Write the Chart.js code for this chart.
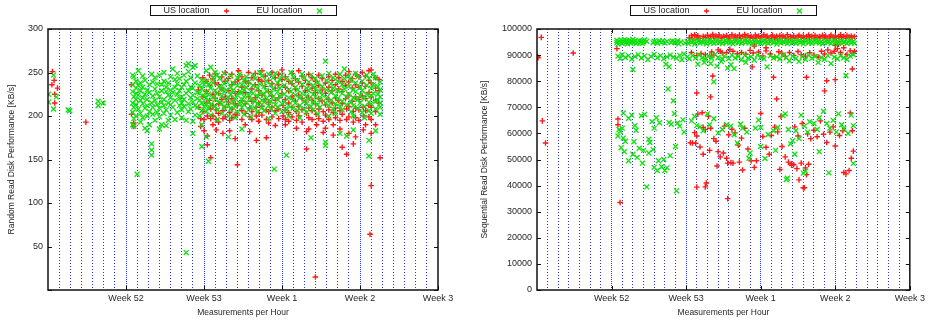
<!DOCTYPE html>
<html>
<head>
<meta charset="utf-8">
<script src="https://cdn.jsdelivr.net/npm/chart.js@4.4.1/dist/chart.umd.min.js"></script>
<style>
  html, body { margin: 0; padding: 0; background: #fff; }
  #wrap { display: flex; width: 928px; height: 322px; }
  canvas { display: block; }
</style>
</head>
<body>
<div id="wrap">
  <canvas id="randomChart" width="464" height="322"></canvas>
  <canvas id="seqChart" width="464" height="322"></canvas>
</div>
<script>
// x = days since start of plot (week 51), tick labels at week boundaries
const weekTicks = [7, 14, 21, 28, 35];
const weekNames = ['Week 52', 'Week 53', 'Week 1', 'Week 2', 'Week 3'];
const seriesNames = ['US location', 'EU location'];

// random read, US location [day, KB/s]
const randomUS = [
  [0.4,251],[0.55,241],[0.35,236],[0.6,225],[0.6,215],[0.85,232],[3.4,193],
  [7.5,236],[7.5,202],[7.7,192],[7.7,188],
  [13.5,230],[13.5,210],[13.7,197],[13.7,188],[13.9,244],[13.9,222],[13.9,205],[14.0,196],[14.0,183],
  [14.2,240],[14.2,228],[14.2,215],[14.3,200],[14.3,177],[14.3,167],[14.5,247],[14.5,235],[14.5,218],
  [14.6,208],[14.6,197],[14.6,152],[14.8,243],[14.8,225],[14.8,212],[14.8,200],[14.8,190],
  [15.0,249],[15.0,238],[15.0,220],[15.1,207],[15.1,196],[15.1,184],[15.3,236],[15.3,226],[15.3,214],[15.3,203],[15.3,193],
  [15.6,245],[15.6,231],[15.6,219],[15.7,206],[15.7,197],[15.7,180],[15.9,250],[15.9,240],[15.9,222],[15.9,210],[15.9,199],
  [16.2,243],[16.2,229],[16.2,216],[16.3,204],[16.3,195],[16.3,183],[16.5,248],[16.5,236],[16.5,220],[16.5,208],[16.5,198],
  [16.8,239],[16.8,226],[16.8,214],[16.8,202],[16.8,174],[17.1,252],[17.1,242],[17.1,228],[17.0,212],[17.0,201],[17.0,144],
  [17.4,245],[17.4,233],[17.4,218],[17.4,206],[17.4,196],[17.7,240],[17.7,227],[17.7,214],[17.7,203],[17.7,190],
  [18.0,250],[18.0,238],[18.0,222],[18.1,209],[18.1,199],[18.1,182],[18.3,244],[18.3,231],[18.3,217],[18.3,205],[18.3,196],
  [18.6,249],[18.6,236],[18.6,221],[18.7,210],[18.7,200],[18.7,172],[18.9,242],[18.9,229],[18.9,215],[18.9,204],[18.9,194],
  [19.2,252],[19.2,240],[19.2,224],[19.2,211],[19.2,201],[19.5,246],[19.5,234],[19.5,219],[19.6,207],[19.6,196],[19.6,175],
  [19.8,241],[19.8,228],[19.8,216],[19.8,205],[19.8,192],[20.1,250],[20.1,237],[20.1,223],[20.1,210],[20.1,199],
  [20.4,244],[20.4,232],[20.4,218],[20.4,206],[20.4,189],[20.7,248],[20.7,236],[20.7,221],[20.7,208],[20.7,197],
  [21.0,253],[21.0,242],[21.0,226],[21.1,212],[21.1,200],[21.3,245],[21.3,233],[21.3,219],[21.3,207],[21.3,196],[21.3,190],
  [21.6,240],[21.6,229],[21.6,215],[21.6,204],[21.6,194],[21.9,249],[21.9,237],[21.9,222],[21.9,210],[21.9,199],
  [22.2,243],[22.2,231],[22.2,217],[22.3,205],[22.3,195],[22.3,186],[22.5,252],[22.5,239],[22.5,224],[22.5,211],[22.5,200],
  [22.8,246],[22.8,234],[22.8,220],[22.8,207],[22.8,193],[23.1,241],[23.1,229],[23.1,216],[23.2,203],[23.2,182],[23.2,162],
  [23.4,248],[23.4,236],[23.4,221],[23.4,209],[23.4,198],[23.4,185],[23.7,244],[23.7,232],[23.7,218],[23.7,206],[23.7,196],
  [24.0,15],[24.0,240],[24.0,227],[24.0,214],[24.1,202],[24.1,190],[24.3,247],[24.3,235],[24.3,220],[24.3,208],[24.3,197],
  [24.6,243],[24.6,230],[24.6,217],[24.7,205],[24.7,194],[24.7,181],[24.9,238],[24.9,226],[24.9,213],[24.9,201],[24.9,186],
  [25.2,245],[25.2,233],[25.2,219],[25.2,207],[25.2,196],[25.5,241],[25.5,229],[25.5,215],[25.6,204],[25.6,190],[25.6,178],
  [25.8,248],[25.8,236],[25.8,221],[25.8,209],[25.8,198],[26.1,244],[26.1,231],[26.1,218],[26.2,206],[26.2,195],[26.2,185],
  [26.4,240],[26.4,228],[26.4,214],[26.4,202],[26.4,164],[26.7,247],[26.7,235],[26.7,220],[26.8,208],[26.8,196],[26.8,156],
  [27.0,251],[27.0,239],[27.0,224],[27.0,211],[27.0,199],[27.0,180],[27.3,243],[27.3,232],[27.3,217],[27.4,205],[27.4,193],[27.4,168],
  [27.6,248],[27.6,236],[27.6,222],[27.6,209],[27.6,198],[27.6,176],[27.9,245],[27.9,233],[27.9,219],[27.9,207],[27.9,195],
  [28.2,250],[28.2,238],[28.2,223],[28.3,210],[28.3,200],[28.3,184],[28.5,246],[28.5,234],[28.5,220],[28.5,206],[28.5,190],
  [28.8,252],[28.8,241],[28.8,227],[28.8,212],[28.8,199],[28.9,64],[29.0,120],[29.0,253],[29.0,238],[29.0,222],[29.0,210],[29.0,196],[29.0,180],
  [29.4,244],[29.4,232],[29.4,218],[29.4,205],[29.4,190],[29.7,242],[29.7,229],[29.7,215],[29.8,152]
];

// random read, EU location [day, KB/s]
const randomEU = [
  [0.05,225],[0.05,216],[0.5,247],[0.5,208],[0.75,222],[1.8,207],[1.95,206],[4.5,217],[4.5,212],[4.95,215],
  [7.6,247],[7.6,236],[7.6,228],[7.6,215],[7.6,204],[7.6,190],[7.7,245],[7.7,222],[7.7,210],[7.7,197],[7.7,188],
  [7.9,240],[7.9,232],[7.9,226],[7.9,219],[7.9,213],[7.9,200],[8.0,133],[8.1,252],[8.1,235],[8.1,224],[8.1,208],
  [8.3,238],[8.3,229],[8.3,218],[8.3,203],[8.3,193],[8.5,246],[8.5,233],[8.5,221],[8.5,214],[8.5,198],
  [8.7,225],[8.7,209],[8.7,186],[8.7,241],[8.9,230],[8.9,219],[8.9,212],[8.9,200],[8.9,183],
  [9.1,236],[9.1,227],[9.1,205],[9.1,190],[9.3,168],[9.3,161],[9.3,155],[9.3,248],[9.3,215],
  [9.4,239],[9.4,223],[9.4,210],[9.4,202],[9.6,244],[9.6,231],[9.6,218],[9.6,195],[9.8,226],[9.8,213],[9.8,204],[9.8,237],
  [10.0,247],[10.0,222],[10.0,209],[10.0,199],[10.0,185],[10.2,236],[10.2,216],[10.2,229],[10.2,190],
  [10.4,250],[10.4,240],[10.4,219],[10.4,212],[10.4,203],[10.6,228],[10.6,233],[10.6,207],[10.6,189],
  [10.8,238],[10.8,224],[10.8,215],[10.8,195],[11.0,245],[11.0,230],[11.0,221],[11.0,213],[11.0,201],
  [11.2,254],[11.2,227],[11.2,210],[11.4,242],[11.4,218],[11.4,196],[11.4,233],[11.6,249],[11.6,237],[11.6,225],[11.6,204],
  [11.8,220],[11.8,212],[11.8,243],[11.8,229],[12.0,233],[12.0,222],[12.0,215],[12.0,207],[12.0,198],
  [12.2,247],[12.2,236],[12.2,219],[12.2,211],[12.4,43],[12.4,258],[12.4,226],[12.4,195],[12.4,240],
  [12.6,260],[12.6,251],[12.6,229],[12.6,214],[12.6,205],[12.8,221],[12.8,233],[12.8,244],[12.8,208],
  [13.0,256],[13.0,232],[13.0,224],[13.0,216],[13.0,194],[13.0,180],[13.2,258],[13.2,238],[13.2,212],[13.2,201],
  [13.4,246],[13.4,227],[13.4,220],[13.4,210],[13.6,235],[13.6,226],[13.6,218],[13.6,200],
  [13.8,165],[13.8,241],[13.8,231],[13.8,215],[13.8,206],[13.8,190],[14.0,223],[14.0,236],[14.0,211],
  [14.2,252],[14.2,240],[14.2,228],[14.2,221],[14.2,214],[14.2,205],[14.2,176],[14.4,148],[14.4,236],[14.4,225],[14.4,217],[14.4,209],
  [14.6,256],[14.6,232],[14.6,213],[14.6,201],[14.8,244],[14.8,222],[14.8,238],[15.0,250],[15.0,229],[15.0,219],[15.0,211],
  [15.2,247],[15.2,226],[15.2,207],[15.2,196],[15.4,234],[15.4,216],[15.4,243],[15.6,231],[15.6,223],[15.6,214],[15.6,203],
  [15.8,249],[15.8,237],[15.8,228],[15.8,210],[16.0,218],[16.0,230],[16.0,240],[16.2,221],[16.2,212],[16.2,200],[16.2,176],
  [16.4,246],[16.4,233],[16.4,225],[16.4,208],[16.6,238],[16.6,216],[16.6,229],[16.8,220],[16.8,211],[16.8,198],
  [17.0,244],[17.0,235],[17.0,224],[17.0,205],[17.2,215],[17.2,228],[17.2,248],[17.4,236],[17.4,227],[17.4,219],[17.4,210],[17.4,185],
  [17.6,241],[17.6,230],[17.6,222],[17.6,213],[17.6,202],[17.8,245],[17.8,233],[17.8,216],[18.0,224],[18.0,207],[18.0,239],
  [18.2,228],[18.2,219],[18.2,211],[18.2,199],[18.4,247],[18.4,235],[18.4,226],[18.6,217],[18.6,209],[18.6,243],
  [18.8,232],[18.8,223],[18.8,214],[18.8,204],[19.0,250],[19.0,237],[19.0,227],[19.2,218],[19.2,210],[19.2,246],
  [19.4,234],[19.4,225],[19.4,216],[19.4,206],[19.6,240],[19.6,229],[19.6,220],[19.8,212],[19.8,197],[19.8,248],
  [20.0,236],[20.0,226],[20.0,217],[20.0,208],[20.2,244],[20.2,231],[20.2,222],[20.3,139],[20.4,213],[20.4,203],[20.4,249],
  [20.6,238],[20.6,228],[20.6,219],[20.6,210],[20.8,242],[20.8,232],[20.8,223],[21.0,214],[21.0,205],[21.0,247],
  [21.2,235],[21.2,225],[21.2,216],[21.4,155],[21.4,207],[21.4,243],[21.6,230],[21.6,221],[21.6,212],[21.6,200],
  [21.8,250],[21.8,239],[21.8,228],[22.0,218],[22.0,209],[22.0,245],[22.2,233],[22.2,224],[22.2,215],
  [22.4,206],[22.4,241],[22.4,230],[22.6,221],[22.6,212],[22.6,198],[22.8,248],[22.8,236],[22.8,226],
  [23.0,217],[23.0,208],[23.0,244],[23.2,232],[23.2,223],[23.2,214],[23.2,204],[23.4,239],[23.4,229],[23.4,220],
  [23.6,211],[23.6,175],[23.6,247],[23.8,235],[23.8,225],[23.8,216],[23.8,207],[24.0,243],[24.0,231],[24.0,222],
  [24.2,213],[24.2,202],[24.2,238],[24.4,228],[24.4,219],[24.4,210],[24.6,246],[24.6,234],[24.6,224],
  [24.9,263],[24.9,215],[24.9,170],[24.9,166],[25.0,241],[25.0,230],[25.0,221],[25.2,212],[25.2,200],[25.2,249],
  [25.4,237],[25.4,227],[25.4,218],[25.6,208],[25.6,244],[25.6,232],[25.8,223],[25.8,214],[25.8,203],
  [26.0,240],[26.0,229],[26.0,220],[26.2,211],[26.2,180],[26.2,248],[26.4,236],[26.4,226],[26.4,217],[26.4,207],
  [26.6,254],[26.6,243],[26.6,231],[26.8,222],[26.8,213],[26.8,177],[27.0,246],[27.0,234],[27.0,225],
  [27.2,216],[27.2,205],[27.2,241],[27.4,230],[27.4,221],[27.4,212],[27.4,200],[27.4,184],[27.6,249],[27.6,238],[27.6,228],
  [27.8,219],[27.8,209],[27.8,245],[28.0,233],[28.0,224],[28.0,215],[28.2,204],[28.2,240],[28.2,229],
  [28.4,220],[28.4,211],[28.4,198],[28.6,247],[28.6,235],[28.6,225],[28.8,216],[28.8,206],[28.8,243],[28.8,172],[28.8,154],
  [29.0,232],[29.0,223],[29.0,214],[29.0,203],[29.2,248],[29.2,236],[29.2,226],[29.4,217],[29.4,208],[29.4,244],[29.4,183],
  [29.6,234],[29.6,225],[29.6,218],[29.8,210],[29.8,239],[29.8,230],[29.8,222],[29.8,215],[29.8,202]
];

// sequential read, US location [day, KB/s]
const seqUS = [
  [0.05,89500],[0.1,89000],[0.4,96800],[0.5,64800],[0.8,56300],[3.4,90800],
  [7.5,92500],[7.6,65500],[7.6,63300],[7.8,33500],
  [14.3,96600],[14.5,97500],[14.6,96200],[14.8,97800],[15.0,96900],[15.1,97400],[15.3,96400],[15.6,97200],[15.8,96800],
  [16.0,97600],[16.1,96300],[16.3,97100],[16.5,97900],[16.6,96600],[16.8,97300],[17.0,96900],[17.1,97700],[17.3,96400],
  [17.5,97200],[17.6,96800],[17.8,97500],[18.0,96200],[18.1,97000],[18.3,97800],[18.5,96500],[18.6,97300],[18.8,96900],
  [19.0,97600],[19.1,96300],[19.3,97100],[19.5,97900],[19.6,96600],[19.8,97400],[20.0,96800],[20.1,97200],[20.3,96400],
  [20.5,97700],[20.6,96900],[20.8,97300],[21.0,96500],[21.1,97100],[21.3,97800],[21.5,96700],[21.6,97300],[21.8,96300],
  [22.0,97000],[22.1,97600],[22.3,96800],[22.5,97200],[22.6,96400],[22.8,97500],[23.0,96900],[23.1,97300],[23.3,96600],
  [23.5,97800],[23.6,96200],[23.8,97100],[24.0,96700],[24.1,97400],[24.3,96500],[24.5,97000],[24.6,97600],[24.8,96800],
  [25.0,97300],[25.1,96400],[25.3,97100],[25.5,97700],[25.6,96900],[25.8,97200],[26.0,96300],[26.1,97500],[26.3,96800],
  [26.5,97100],[26.6,96500],[26.8,97600],[27.0,96900],[27.1,97300],[27.3,96400],[27.5,97000],[27.6,97700],[27.8,96700],
  [28.0,97300],[28.1,96500],[28.3,97100],[28.5,97800],[28.6,96800],[28.8,97200],[29.0,96400],[29.1,97500],[29.3,96900],
  [29.5,97300],[29.6,96600],[29.8,97100],
  [14.5,91000],[15.0,89800],[15.4,90600],[15.8,90200],[16.2,89600],[16.4,91200],[16.6,90000],[17.0,92000],[17.2,91500],
  [17.4,90800],[17.8,91000],[18.1,92200],[18.4,91500],[18.8,90500],[19.2,91000],[19.6,90300],[20.0,91800],[20.3,90800],
  [20.8,91200],[21.2,89700],[21.5,91600],[21.9,90400],[22.3,89300],[22.7,91300],[23.0,90600],[23.3,89500],[23.7,91000],
  [24.1,89800],[24.5,91400],[24.8,90200],[25.2,89600],[25.6,90900],[26.0,90000],[26.4,89300],[26.7,91500],[27.0,90400],
  [27.3,92000],[27.6,90800],[27.9,91500],[28.2,92500],[28.5,91000],[28.8,92800],[29.1,90200],[29.4,91600],[29.7,90700],
  [29.8,91500],[20.4,93500],[21.5,92800],[28.0,93800],[28.3,94200],
  [15.0,75500],[16.3,74000],[16.5,82000],[22.2,81500],[25.3,81500],[22.5,73200],[27.0,76300],[27.2,80200],[28.0,80600],
  [29.6,84700],[20.2,85500],
  [14.4,56400],[14.6,56300],[14.9,56200],[14.8,60300],[15.0,59000],[15.1,67400],[15.5,67900],[15.6,62300],[15.8,61500],
  [16.1,66600],[16.3,62000],[16.6,58000],[16.8,57000],[17.0,53000],[17.2,51000],[17.5,52500],[17.8,50500],[15.3,54800],
  [15.6,52000],[16.2,53500],[17.6,62800],[18.0,59500],[18.3,61600],[18.6,60200],[18.9,55500],[19.2,58200],[19.5,62000],
  [19.8,54000],[20.1,49500],[19.0,49000],[20.4,47000],[20.6,49500],[18.2,48800],[17.9,48600],[18.4,48600],[21.0,67600],
  [21.2,58800],[21.5,54700],[21.8,52000],[22.0,59200],[22.3,62400],[22.6,60600],[22.9,66500],[23.0,55000],[23.3,51000],
  [23.6,49000],[23.9,47800],[24.1,48000],[24.4,46500],[24.6,42200],[24.8,48600],[25.0,39200],[25.2,46800],[25.3,44200],
  [25.5,48200],[24.2,62500],[24.5,59000],[24.9,63800],[25.4,59800],[25.7,58000],[26.0,61200],[26.3,58700],[26.6,64800],
  [26.9,59700],[27.2,56500],[27.5,60500],[27.8,62500],[28.0,55200],[28.4,59200],[28.7,61000],[28.8,45000],[29.0,44500],
  [29.3,45800],[29.5,50500],[29.7,53200],[29.4,67800],[29.6,61000],
  [15.0,39400],[15.8,39500],[15.9,41000],[17.9,35000],[16.9,47500],[19.3,46000],[22.8,46200],[23.9,48400],[25.1,39200]
];

// sequential read, EU location [day, KB/s]
const seqEU = [
  [7.5,94800],[7.5,95600],[7.6,94200],[7.7,95300],[7.8,94900],[7.9,95800],[8.0,94500],[8.1,95200],[8.2,95900],[8.3,94700],
  [8.4,95400],[8.5,94300],[8.6,95100],[8.7,95700],[8.8,94600],[8.9,95300],[9.0,96000],[9.1,94900],[9.2,95500],[9.3,94400],
  [9.4,95000],[9.6,95600],[9.7,94800],[9.8,95300],[9.9,94500],[10.0,95100],[10.1,95800],[10.3,95300],[10.9,94700],[11.0,95300],
  [11.2,95000],[11.3,94500],[11.5,95400],[11.7,94900],[11.8,95500],[12.0,94600],[12.2,95200],[12.6,94800],[12.7,95400],
  [12.9,95100],[13.0,94700],[13.2,95500],[13.3,94300],[13.5,95000],
  [13.9,94600],[14.1,95200],[14.2,94400],[14.4,95500],[14.5,94900],[14.7,95300],[14.8,94200],[15.0,95000],[15.1,95700],
  [15.3,94600],[15.4,95200],[15.6,94800],[15.7,95500],[15.9,94300],[16.0,95100],[16.2,95800],[16.3,94700],[16.5,95300],
  [16.6,94500],[16.8,95000],[16.9,95600],[17.1,94800],[17.2,95300],[17.4,94400],[17.5,95100],[17.7,95700],[17.8,94900],
  [18.0,95400],[18.1,94600],[18.3,95200],[18.4,94300],[18.6,95000],[18.7,95600],[18.9,94700],[19.0,95300],[19.2,94500],
  [19.3,95100],[19.5,95800],[19.6,94900],[19.8,95400],[19.9,94600],[20.1,95200],[20.2,94300],[20.4,95000],[20.5,95500],
  [20.7,94800],[20.8,95300],[21.0,94400],[21.1,95100],[21.3,95700],[21.4,94700],[21.6,95200],[21.7,94500],[21.9,95000],
  [22.0,95600],[22.2,94800],[22.3,95300],[22.5,94200],[22.6,95100],[22.8,95800],[22.9,94600],[23.1,95200],[23.2,94900],
  [23.4,95500],[23.5,94400],[23.7,95000],[23.8,95600],[24.0,94700],[24.1,95300],[24.3,94500],[24.4,95100],[24.6,95700],
  [24.7,94800],[24.9,95200],[25.0,94300],[25.2,95000],[25.3,95600],[25.5,94700],[25.6,95300],[25.8,94500],[25.9,95100],
  [26.1,95800],[26.2,94900],[26.4,95400],[26.5,94600],[26.7,95200],[26.8,94300],[27.0,95000],[27.1,95500],[27.3,94800],
  [27.4,95300],[27.6,94400],[27.7,95100],[27.9,95700],[28.0,94700],[28.2,95200],[28.3,94500],[28.5,95000],[28.6,95600],
  [28.8,94800],[28.9,95300],[29.1,94400],[29.2,95100],[29.4,95700],[29.5,94700],[29.7,95200],[29.8,94500],
  [7.6,89600],[7.8,88700],[8.0,90200],[8.3,89100],[8.6,89800],[8.9,88500],[9.0,84500],[9.2,89400],[9.5,90100],[9.8,88900],
  [10.1,89700],[10.4,88300],[10.7,89500],[11.0,90300],[11.3,89000],[11.6,89800],[11.9,88600],[12.1,86500],[12.2,89300],
  [12.4,85500],[12.5,90000],[12.8,89200],[13.1,88800],[13.4,89900],[13.6,88200],[13.8,90400],[14.1,89300],[14.3,88600],
  [14.6,89800],[14.9,88900],[15.1,86500],[15.2,90100],[15.5,89000],[15.7,87200],[15.8,88500],[16.1,89600],[16.3,86800],
  [16.4,88800],[16.7,90200],[16.9,85800],[17.0,89100],[17.3,87500],[17.4,88400],[17.6,89700],[17.9,85000],[18.0,88700],
  [18.2,86300],[18.3,90000],[18.5,84800],[18.6,88900],[18.9,89500],[19.2,88200],[19.5,89900],[19.6,87200],[19.8,88800],
  [20.1,89400],[20.4,88100],[20.7,90000],[21.0,89100],[21.3,88600],[21.6,85500],[21.9,89700],[22.2,88900],[22.5,89300],
  [22.8,88500],[23.1,90100],[23.4,89000],[23.7,87800],[24.0,89600],[24.3,88700],[24.6,87600],[24.9,89400],[25.2,88300],
  [25.5,89900],[25.8,88800],[26.1,89500],[26.4,87200],[26.7,89100],[27.0,88400],[27.3,89800],[27.6,86800],[27.9,89200],
  [28.2,88600],[28.5,89700],[28.8,89000],[29.1,88300],[29.4,89600],[29.7,90200],
  [12.3,77000],[12.8,72500],[16.6,79800],[29.0,82200],
  [7.6,59000],[7.7,61500],[7.8,60800],[7.9,54500],[8.0,62000],[8.1,67800],[8.1,58200],[8.3,57000],[8.6,65800],[8.9,67000],
  [9.0,52000],[9.2,63000],[9.3,61200],[9.1,56800],[9.6,54300],[9.8,66800],[10.0,53500],[10.1,67300],[10.3,39500],[10.5,57800],
  [10.6,56500],[10.8,64500],[11.0,62000],[11.2,66000],[11.5,64100],[11.7,47200],[11.9,50000],[12.0,45800],[12.2,46800],
  [12.4,64200],[12.6,63500],[12.9,67600],[13.1,38000],[13.2,64000],[13.4,62800],[13.7,65200],[13.8,60500],
  [8.2,53000],[8.6,49500],[9.4,50800],[9.9,48600],[10.5,52500],[11.0,47000],[11.3,45800],[11.4,49500],[10.9,53800],
  [12.5,51500],[13.0,55000],
  [14.5,64800],[14.8,66500],[15.0,63000],[15.3,62500],[15.6,61000],[16.0,67500],[16.2,63300],[16.6,65600],[17.0,60200],
  [17.4,61500],[17.8,63300],[18.2,62800],[18.5,59500],[18.8,56300],[19.1,63500],[19.3,62000],[19.7,60500],[20.0,52500],
  [20.5,62000],[20.8,65100],[21.0,62300],[21.4,50400],[21.7,59600],[22.2,61000],[22.6,62300],[23.1,66800],[23.3,67500],
  [23.6,61500],[23.8,56000],[24.0,57200],[24.3,61000],[24.6,58000],[24.8,67000],[25.1,62800],[25.4,60500],[25.6,64500],
  [26.0,63800],[26.3,61500],[26.5,66000],[26.9,68500],[27.2,63800],[27.5,62000],[27.8,65000],[28.1,60500],[28.3,67500],
  [28.6,63300],[28.8,61800],[29.2,60000],[29.5,67000],[29.7,63000],
  [22.4,53500],[23.4,42300],[23.5,42800],[24.2,52000],[25.0,44800],[25.2,45500],[26.5,53000],[27.4,44900],[29.7,48500],
  [21.0,55000],[19.9,50500]
];

const US_COLOR = '#ff1a1a';
const EU_COLOR = '#10e010';
const GRID_COLOR = 'rgba(0, 20, 235, 0.85)';
const TEXT_COLOR = '#262626';
const FONT = '"Liberation Sans", Arial, Helvetica, sans-serif';

// gnuplot-style border with inward tick marks
const framePlugin = {
  id: 'frame',
  afterDatasetsDraw(chart) {
    const { ctx, chartArea: a, scales } = chart;
    const x = scales.x, y = scales.y;
    ctx.save();
    ctx.strokeStyle = '#111';
    ctx.lineWidth = 1;
    ctx.beginPath();
    y.ticks.forEach(t => {
      const py = Math.round(y.getPixelForValue(t.value)) + 0.5;
      ctx.moveTo(a.left, py); ctx.lineTo(a.left + 4, py);
      ctx.moveTo(a.right, py); ctx.lineTo(a.right - 4, py);
    });
    weekTicks.forEach(v => {
      const px = Math.round(x.getPixelForValue(v)) + 0.5;
      ctx.moveTo(px, a.bottom); ctx.lineTo(px, a.bottom - 4);
      ctx.moveTo(px, a.top); ctx.lineTo(px, a.top + 4);
    });
    ctx.stroke();
    ctx.lineWidth = 1.5;
    ctx.strokeRect(a.left, a.top, a.right - a.left, a.bottom - a.top);
    ctx.restore();
  }
};

// key box above the plot: text first, then the point sample
const keyPlugin = {
  id: 'keyBox',
  afterDraw(chart) {
    const { ctx, chartArea: a } = chart;
    const w = 186, h = 10, top = 5;
    const left = Math.round((a.left + a.right) / 2 - w / 2) + 0.5;
    ctx.save();
    ctx.strokeStyle = '#111';
    ctx.lineWidth = 1;
    ctx.strokeRect(left, top + 0.5, w, h);
    ctx.font = '9px ' + FONT;
    ctx.fillStyle = TEXT_COLOR;
    ctx.textBaseline = 'middle';
    const cy = top + h / 2 + 1;
    chart.data.datasets.forEach((ds, i) => {
      const tx = left + 13 + i * 93;
      const mx = left + 76 + i * 93;
      ctx.fillText(ds.label, tx, cy);
      ctx.strokeStyle = ds.borderColor;
      ctx.lineWidth = 1.3;
      ctx.beginPath();
      if (ds.pointStyle === 'cross') {
        ctx.moveTo(mx - 2.5, cy); ctx.lineTo(mx + 2.5, cy);
        ctx.moveTo(mx, cy - 2.5); ctx.lineTo(mx, cy + 2.5);
      } else {
        ctx.moveTo(mx - 2.5, cy - 2.5); ctx.lineTo(mx + 2.5, cy + 2.5);
        ctx.moveTo(mx - 2.5, cy + 2.5); ctx.lineTo(mx + 2.5, cy - 2.5);
      }
      ctx.stroke();
    });
    ctx.restore();
  }
};

function makeChart(id, us, eu, cfg) {
  return new Chart(document.getElementById(id), {
    type: 'scatter',
    data: {
      datasets: [
        // gnuplot draws US first, EU over it: higher order is painted earlier
        { label: seriesNames[0], data: us, order: 2, pointStyle: 'cross', pointRadius: 2.8,
          borderColor: US_COLOR, backgroundColor: US_COLOR, pointBorderWidth: 1.4 },
        { label: seriesNames[1], data: eu, order: 1, pointStyle: 'crossRot', pointRadius: 3.5,
          borderColor: EU_COLOR, backgroundColor: EU_COLOR, pointBorderWidth: 1.3 }
      ]
    },
    options: {
      responsive: false,
      animation: false,
      events: [],
      layout: { padding: { top: 29, right: cfg.rightPad, bottom: 0, left: 0 } },
      plugins: { legend: { display: false }, tooltip: { enabled: false } },
      scales: {
        x: {
          type: 'linear', min: 0, max: 35,
          afterFit: s => { s.height = 32; },
          ticks: {
            stepSize: 1, autoSkip: false, maxRotation: 0, padding: 3,
            color: TEXT_COLOR, font: { family: FONT, size: 9 },
            callback: v => {
              const k = weekTicks.indexOf(v);
              return k >= 0 ? weekNames[k] : '';
            }
          },
          grid: {
            drawTicks: false,
            lineWidth: 1,
            color: c => (c.tick && (c.tick.value === 0 || c.tick.value === 35)) ? 'rgba(0,0,0,0)' : GRID_COLOR
          },
          border: {
            display: false,
            dash: c => (c.tick && c.tick.value % 7 === 0) ? [1, 1] : [1, 2]
          },
          title: {
            display: true, text: 'Measurements per Hour', color: TEXT_COLOR,
            font: { family: FONT, size: 8.5 }, padding: { top: 0, bottom: 4 }
          }
        },
        y: {
          type: 'linear', min: 0, max: cfg.yMax,
          afterFit: s => { s.width = cfg.yWidth; },
          ticks: {
            stepSize: cfg.yStep, padding: cfg.tickPad,
            color: TEXT_COLOR, font: { family: FONT, size: 9 },
            callback: v => (cfg.hideZero && v === 0) ? '' : String(v)
          },
          grid: { display: false, drawTicks: false },
          border: { display: false },
          title: {
            display: true, text: cfg.yTitle, color: TEXT_COLOR,
            font: { family: FONT, size: 8.5 }, padding: { top: cfg.titlePad, bottom: 0 }
          }
        }
      }
    },
    plugins: [framePlugin, keyPlugin]
  });
}

makeChart('randomChart', randomUS, randomEU, {
  yMax: 300, yStep: 50, yWidth: 48, rightPad: 26, tickPad: 5, titlePad: 7, hideZero: true,
  yTitle: 'Random Read Disk Performance [KB/s]'
});
makeChart('seqChart', seqUS, seqEU, {
  yMax: 100000, yStep: 10000, yWidth: 73, rightPad: 17, tickPad: 5, titlePad: 16, hideZero: false,
  yTitle: 'Sequential Read Disk Performance [KB/s]'
});
</script>
</body>
</html>
